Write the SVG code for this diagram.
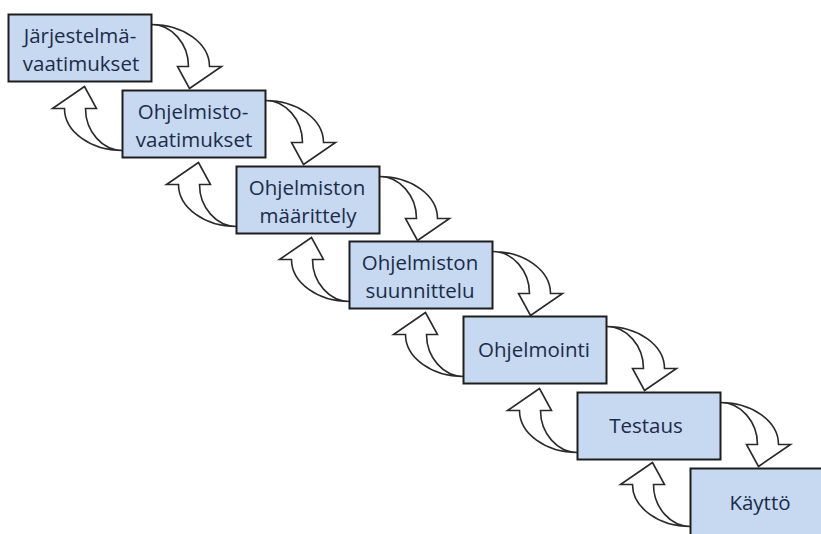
<svg xmlns="http://www.w3.org/2000/svg" xmlns:xlink="http://www.w3.org/1999/xlink" width="821" height="534" viewBox="0 0 821 534">
<style>
.box{fill:#c6d9f1;stroke:#1e1e1e;stroke-width:2}
.lbl{font-family:"Open Sans","Liberation Sans",sans-serif;font-size:20.5px;fill:#1c2b48;text-anchor:middle}
.arr{fill:#ffffff;stroke:#2a2a2a;stroke-width:1.6;stroke-linejoin:miter}
</style>
<defs>
<path id="carrow" class="arr" d="M0,0 C32,0 58,19 58,42 L70,42 L38,64 L26,42 L37,42 C37,19 20,0 0,0 Z"/>
</defs>
<rect width="821" height="534" fill="#ffffff"/>
<g id="connectors">
<use xlink:href="#carrow" transform="translate(151.5,24.5)"/>
<use xlink:href="#carrow" transform="translate(265.5,100.5)"/>
<use xlink:href="#carrow" transform="translate(379.5,176.5)"/>
<use xlink:href="#carrow" transform="translate(492.5,251.5)"/>
<use xlink:href="#carrow" transform="translate(606.5,326.5)"/>
<use xlink:href="#carrow" transform="translate(720.5,402.5)"/>
<use xlink:href="#carrow" transform="translate(122.5,150.5) rotate(180)"/>
<use xlink:href="#carrow" transform="translate(236.5,226.5) rotate(180)"/>
<use xlink:href="#carrow" transform="translate(349.5,301.5) rotate(180)"/>
<use xlink:href="#carrow" transform="translate(463.5,376.5) rotate(180)"/>
<use xlink:href="#carrow" transform="translate(577.5,452.5) rotate(180)"/>
<use xlink:href="#carrow" transform="translate(690.5,526.5) rotate(180)"/>
</g>
<g id="n1"><rect class="box" x="8.5" y="14.5" width="143" height="67"/><text class="lbl" x="80" y="43">Järjestelmä-</text><text class="lbl" x="81" y="71">vaatimukset</text></g>
<g id="n2"><rect class="box" x="122.5" y="90.5" width="143" height="67"/><text class="lbl" x="193" y="119">Ohjelmisto-</text><text class="lbl" x="194" y="147">vaatimukset</text></g>
<g id="n3"><rect class="box" x="236.5" y="166.5" width="143" height="67"/><text class="lbl" x="307" y="195">Ohjelmiston</text><text class="lbl" x="308" y="223">määrittely</text></g>
<g id="n4"><rect class="box" x="349.5" y="241.5" width="143" height="67"/><text class="lbl" x="420" y="270">Ohjelmiston</text><text class="lbl" x="420" y="298">suunnittelu</text></g>
<g id="n5"><rect class="box" x="463.5" y="316.5" width="143" height="67"/><text class="lbl" x="534" y="357">Ohjelmointi</text></g>
<g id="n6"><rect class="box" x="577.5" y="392.5" width="143" height="67"/><text class="lbl" x="646" y="433">Testaus</text></g>
<g id="n7"><rect class="box" x="690.5" y="468.5" width="143" height="67"/><text class="lbl" x="760" y="510">Käyttö</text></g>
</svg>
